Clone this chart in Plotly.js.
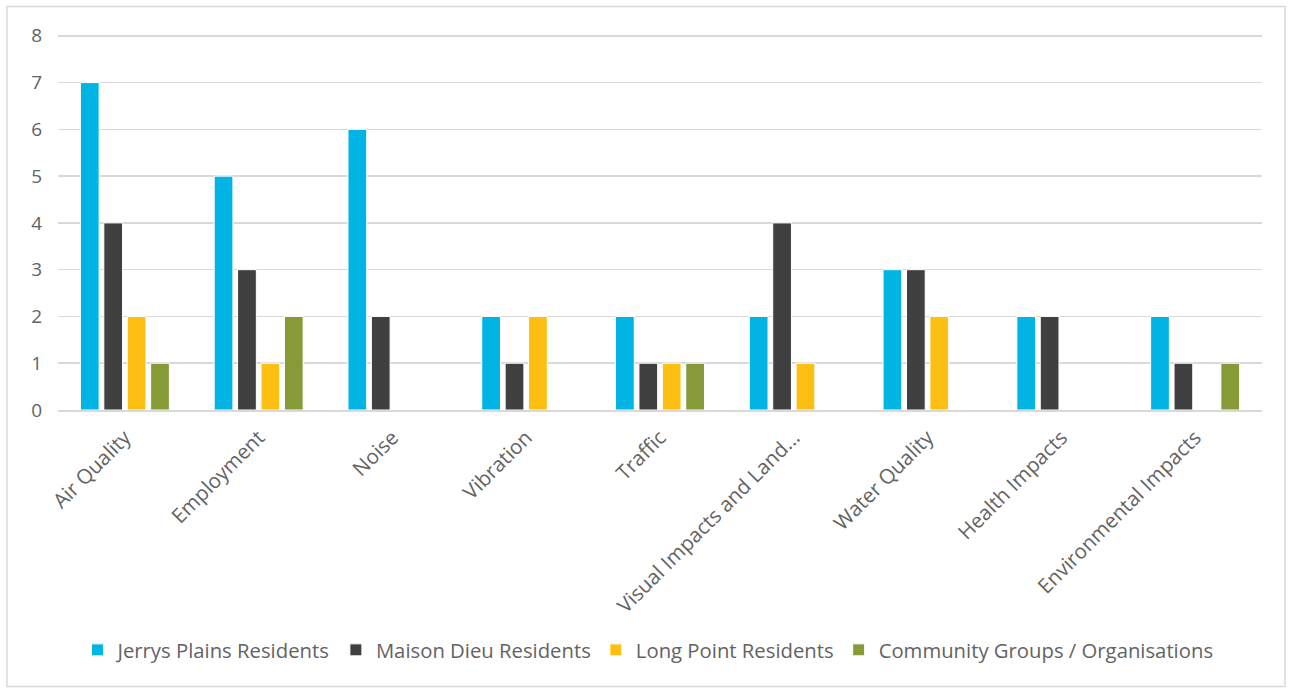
<!DOCTYPE html>
<html>
<head>
<meta charset="utf-8">
<script src="https://cdn.plot.ly/plotly-3.0.1.min.js"></script>
<style>
  html, body { margin: 0; padding: 0; background: #fff; }
  #chart { width: 1291px; height: 688px; }
</style>
</head>
<body>
<div id="chart"></div>
<script>
// Issues raised, grouped by respondent type
const categories = [
  "Air Quality", "Employment", "Noise", "Vibration", "Traffic",
  "Visual Impacts and Land...", "Water Quality", "Health Impacts", "Environmental Impacts"
];
const jerrysPlains   = [7, 5, 6, 2, 2, 2, 3, 2, 2];
const maisonDieu     = [4, 3, 2, 1, 1, 4, 3, 2, 1];
const longPoint      = [2, 1, 0, 2, 1, 1, 2, 0, 0];
const communityGroups = [1, 2, 0, 0, 1, 0, 0, 0, 1];
const yTicks = [0, 1, 2, 3, 4, 5, 6, 7, 8];

const font = "Open Sans, Noto Sans, sans-serif";
const textColor = "#636363";

function series(name, values, color) {
  return {
    type: "bar",
    name: name,
    x: categories,
    y: values,
    marker: { color: color, line: { color: "#ffffff", width: 1 } },
    hoverinfo: "x+y+name"
  };
}

const data = [
  series("Jerrys Plains Residents", jerrysPlains, "#00B4E4"),
  series("Maison Dieu Residents", maisonDieu, "#404040"),
  series("Long Point Residents", longPoint, "#FDBF12"),
  series("Community Groups / Organisations", communityGroups, "#869A38")
];

// top of the range sits a little above 8 so the 8 gridline is drawn
const layout = {
  width: 1291,
  height: 688,
  margin: { l: 58, r: 29, t: 33, b: 278 },
  paper_bgcolor: "#ffffff",
  plot_bgcolor: "#ffffff",
  barmode: "group",
  bargap: 0.3,
  bargroupgap: 0.2,
  font: { family: font, color: textColor, size: 20 },
  xaxis: {
    type: "category",
    tickangle: -45,
    tickfont: { family: font, size: 20.5, color: textColor },
    showgrid: false,
    showline: true,
    linecolor: "#D9D9D9",
    linewidth: 1.5,
    ticks: "",
    ticklabelstandoff: 6
  },
  yaxis: {
    range: [0, 8.06],
    tickvals: yTicks,
    ticktext: yTicks.map(String),
    tickfont: { family: font, size: 19, color: textColor },
    showgrid: true,
    gridcolor: "#D9D9D9",
    gridwidth: 1.5,
    zeroline: false,
    showline: false,
    ticks: "",
    ticklabelstandoff: 15
  },
  showlegend: true,
  legend: {
    orientation: "h",
    x: 0.49,
    xanchor: "center",
    y: -0.637,
    yanchor: "middle",
    font: { family: font, size: 20.3, color: textColor },
    itemwidth: 30,
    traceorder: "normal"
  },
  shapes: [{
    type: "rect",
    xref: "paper",
    yref: "paper",
    x0: -0.0424, x1: 1.0191,
    y0: -0.7336, y1: 1.0705,
    line: { color: "#D9D9D9", width: 1.5 },
    fillcolor: "rgba(0,0,0,0)",
    layer: "below"
  }]
};

Plotly.newPlot("chart", data, layout, { displayModeBar: false, staticPlot: true });
</script>
</body>
</html>
